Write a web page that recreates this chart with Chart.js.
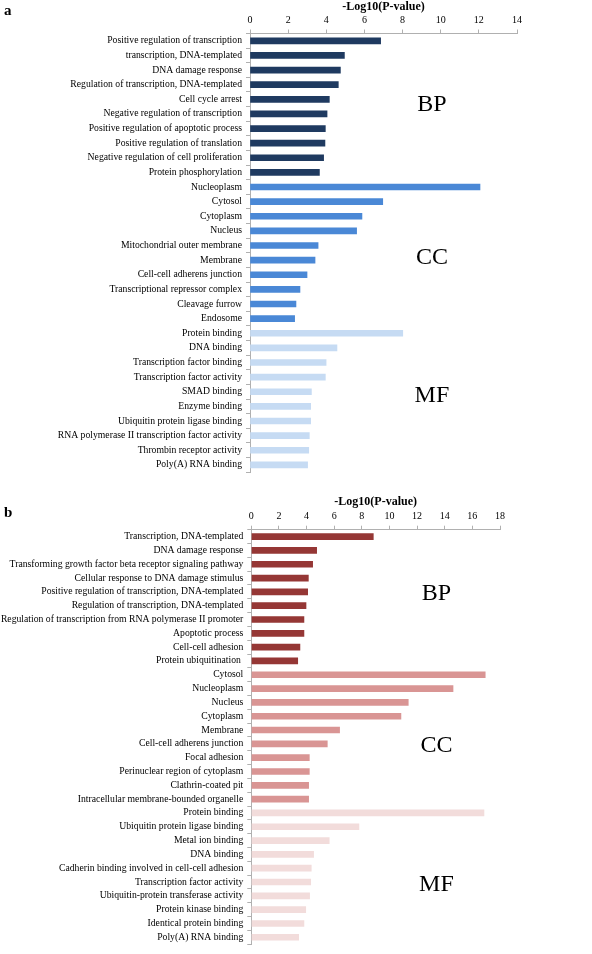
<!DOCTYPE html>
<html>
<head>
<meta charset="utf-8">
<script src="https://cdn.jsdelivr.net/npm/chart.js@4/dist/chart.umd.min.js"></script>
<style>
  html, body { margin: 0; padding: 0; background: #fff; }
  #wrapA { position: absolute; left: 0; top: 0; width: 592px; height: 482px; }
  #wrapB { position: absolute; left: 0; top: 485px; width: 592px; height: 469px; }
</style>
</head>
<body>
<div id="wrapA"><canvas id="chartA"></canvas></div>
<div id="wrapB"><canvas id="chartB"></canvas></div>
<script>
// panel a
const aBpLabels = ['Positive regulation of transcription', 'transcription, DNA-templated', 'DNA damage response',
  'Regulation of transcription, DNA-templated', 'Cell cycle arrest', 'Negative regulation of transcription',
  'Positive regulation of apoptotic process', 'Positive regulation of translation',
  'Negative regulation of cell proliferation', 'Protein phosphorylation']
const aBpValues = [6.85, 4.95, 4.74, 4.63, 4.16, 4.04, 3.95, 3.93, 3.86, 3.64]
const aCcLabels = ['Nucleoplasm', 'Cytosol', 'Cytoplasm', 'Nucleus', 'Mitochondrial outer membrane', 'Membrane',
  'Cell-cell adherens junction', 'Transcriptional repressor complex', 'Cleavage furrow', 'Endosome']
const aCcValues = [12.06, 6.96, 5.87, 5.59, 3.57, 3.41, 2.99, 2.62, 2.41, 2.34]
const aMfLabels = ['Protein binding', 'DNA binding', 'Transcription factor binding', 'Transcription factor activity',
  'SMAD binding', 'Enzyme binding', 'Ubiquitin protein ligase binding',
  'RNA polymerase II transcription factor activity', 'Thrombin receptor activity', 'Poly(A) RNA binding']
const aMfValues = [8.01, 4.56, 3.99, 3.95, 3.22, 3.18, 3.18, 3.11, 3.08, 3.02]
const aTicks = [0, 2, 4, 6, 8, 10, 12, 14]

// panel b
const bBpLabels = ['Transcription, DNA-templated', 'DNA damage response',
  'Transforming growth factor beta receptor signaling pathway', 'Cellular response to DNA damage stimulus',
  'Positive regulation of transcription, DNA-templated', 'Regulation of transcription, DNA-templated',
  'Regulation of transcription from RNA polymerase II promoter', 'Apoptotic process', 'Cell-cell adhesion',
  'Protein ubiquitination ']
const bBpValues = [8.83, 4.73, 4.44, 4.13, 4.08, 3.96, 3.81, 3.81, 3.52, 3.36]
const bCcLabels = ['Cytosol', 'Nucleoplasm', 'Nucleus', 'Cytoplasm', 'Membrane', 'Cell-cell adherens junction',
  'Focal adhesion', 'Perinuclear region of cytoplasm', 'Clathrin-coated pit',
  'Intracellular membrane-bounded organelle']
const bCcValues = [16.93, 14.6, 11.36, 10.83, 6.39, 5.5, 4.2, 4.2, 4.15, 4.15]
const bMfLabels = ['Protein binding', 'Ubiquitin protein ligase binding', 'Metal ion binding', 'DNA binding',
  'Cadherin binding involved in cell-cell adhesion', 'Transcription factor activity',
  'Ubiquitin-protein transferase activity', 'Protein kinase binding', 'Identical protein binding',
  'Poly(A) RNA binding']
const bMfValues = [16.84, 7.79, 5.64, 4.51, 4.34, 4.3, 4.22, 3.94, 3.81, 3.43]
const bTicks = [0, 2, 4, 6, 8, 10, 12, 14, 16, 18]

const groupNames = ['BP', 'CC', 'MF']
const serif = "'Liberation Serif', 'Times New Roman', serif"

const groupLabelsPlugin = {
  id: 'groupLabels',
  afterDraw(chart) {
    const o = chart.options.plugins.groupLabels
    const ctx = chart.ctx
    const x = chart.scales.x
    const y = chart.scales.y
    ctx.save()
    ctx.fillStyle = '#000'
    ctx.textAlign = 'center'
    ctx.textBaseline = 'middle'
    ctx.font = '24px ' + serif
    o.names.forEach((n, i) => {
      ctx.fillText(n, x.getPixelForValue(o.xVal), y.getPixelForValue(o.rows[i]))
    })
    ctx.font = 'bold 15px ' + serif
    ctx.textAlign = 'left'
    ctx.fillText(o.letter, 4, o.letterY)
    ctx.restore()
  }
}

function makeChart(id, groups, colors, ticks, cfg) {
  let labels = [], values = [], bg = []
  groups.forEach((g, i) => {
    labels = labels.concat(g[0])
    values = values.concat(g[1])
    g[1].forEach(() => bg.push(colors[i]))
  })
  return new Chart(document.getElementById(id), {
    type: 'bar',
    data: {
      labels: labels,
      datasets: [{ data: values, backgroundColor: bg, barThickness: 6, borderWidth: 0 }]
    },
    options: {
      indexAxis: 'y',
      responsive: true,
      maintainAspectRatio: false,
      animation: false,
      layout: { padding: { left: 0, right: cfg.padRight, top: 0, bottom: cfg.padBottom } },
      plugins: {
        legend: { display: false },
        tooltip: { enabled: false },
        groupLabels: { names: groupNames, rows: cfg.rows, xVal: cfg.labelX, letter: cfg.letter, letterY: cfg.letterY }
      },
      scales: {
        x: {
          position: 'top',
          min: 0,
          max: ticks[ticks.length - 1],
          afterBuildTicks: s => { s.ticks = ticks.map(v => ({ value: v })) },
          afterFit: s => { s.height = cfg.axisTop },
          title: {
            display: true,
            text: '-Log10(P-value)',
            color: '#000',
            font: { family: serif, size: 12, weight: 'bold' },
            padding: { top: cfg.titlePad, bottom: 0 }
          },
          ticks: { color: '#000', font: { family: serif, size: 10 }, padding: 3 },
          grid: { drawOnChartArea: false, drawTicks: true, tickLength: 4, color: '#b0b0b0' },
          border: { display: true, color: '#b0b0b0' }
        },
        y: {
          afterFit: s => { s.width = cfg.axisLeft },
          ticks: { color: '#000', font: { family: serif, size: 9.7 }, padding: 4, autoSkip: false },
          grid: { drawOnChartArea: false, drawTicks: true, tickLength: 4, color: '#b0b0b0', offset: true },
          border: { display: true, color: '#b0b0b0' }
        }
      }
    },
    plugins: [groupLabelsPlugin]
  })
}

makeChart('chartA',
  [[aBpLabels, aBpValues], [aCcLabels, aCcValues], [aMfLabels, aMfValues]],
  ['#1f3a60', '#4a88d6', '#c6dbf3'], aTicks,
  { padRight: 75, padBottom: 1.5, axisTop: 33.5, axisLeft: 250, titlePad: 0,
    rows: [4.4, 14.8, 24.3], labelX: 9.54, letter: 'a', letterY: 11 })

makeChart('chartB',
  [[bBpLabels, bBpValues], [bCcLabels, bCcValues], [bMfLabels, bMfValues]],
  ['#953735', '#d99594', '#f2dcdb'], bTicks,
  { padRight: 92, padBottom: 1.6, axisTop: 44.7, axisLeft: 251.3, titlePad: 10,
    rows: [4.1, 15.1, 25.2], labelX: 13.4, letter: 'b', letterY: 28 })
</script>
</body>
</html>
